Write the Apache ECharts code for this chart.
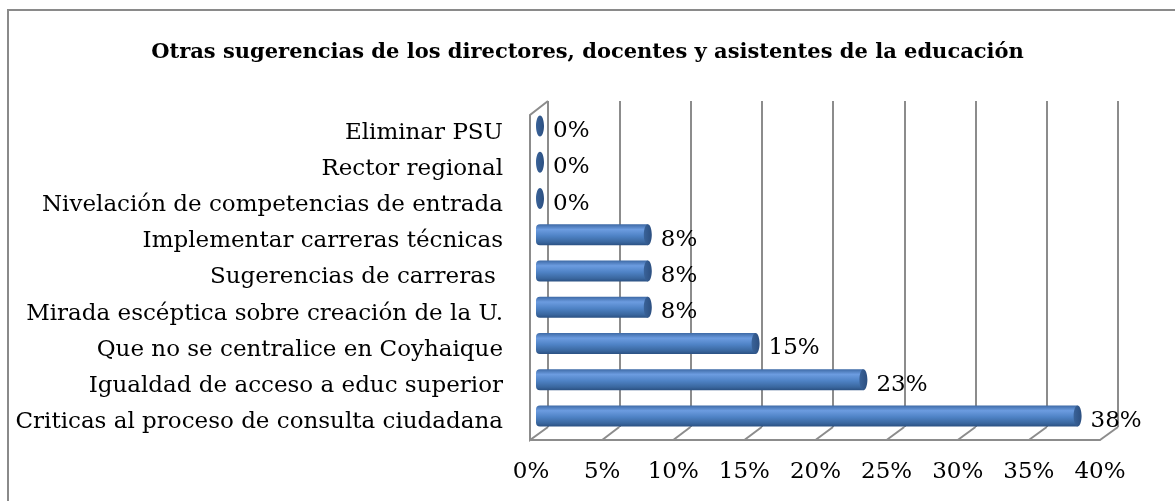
<!DOCTYPE html>
<html>
<head>
<meta charset="utf-8">
<script src="https://cdn.jsdelivr.net/npm/echarts@6/dist/echarts.min.js"></script>
<style>
  html, body { margin: 0; padding: 0; background: #fff; }
  #chart { width: 1175px; height: 501px; }
</style>
</head>
<body>
<div id="chart"></div>
<script>
// categories from top to bottom
const categories = [
  'Eliminar PSU',
  'Rector regional',
  'Nivelación de competencias de entrada',
  'Implementar carreras técnicas',
  'Sugerencias de carreras ',
  'Mirada escéptica sobre creación de la U.',
  'Que no se centralice en Coyhaique',
  'Igualdad de acceso a educ superior',
  'Criticas al proceso de consulta ciudadana'
];
const values = [0, 0, 0, 7.7, 7.7, 7.7, 15.4, 23.1, 38.4];
const axisMin = 0, axisMax = 40, axisStep = 5;

const FONT = 'DejaVu Serif';
const GRID_COLOR = '#8c8c8c';

// 3d box: back wall, mid (bars) and front plane
const back = { left: 548, right: 57, top: 101, bottom: 74 };
const mid = { left: 540, right: 75, top: 108, bottom: 67 };
const front = { left: 531, right: 75, top: 115, bottom: 61 };

const chart = echarts.init(document.getElementById('chart'));

function valueAxis(idx, extra) {
  return Object.assign({
    type: 'value', gridIndex: idx, min: axisMin, max: axisMax, interval: axisStep,
    axisLabel: { show: false }, axisTick: { show: false },
    axisLine: { show: false }, splitLine: { show: false }
  }, extra);
}
function catAxis(idx, extra) {
  return Object.assign({
    type: 'category', gridIndex: idx, data: categories, inverse: true,
    axisLabel: { show: false }, axisTick: { show: false },
    axisLine: { show: false }, splitLine: { show: false }
  }, extra);
}

chart.setOption({
  animation: false,
  title: {
    text: 'Otras sugerencias de los directores, docentes y asistentes de la educación',
    left: 'center', top: 37,
    textStyle: { fontFamily: FONT, fontWeight: 'bold', fontSize: 21, color: '#000' }
  },
  grid: [
    Object.assign({}, back),
    Object.assign({}, mid),
    Object.assign({}, front)
  ],
  xAxis: [
    valueAxis(0, { splitLine: { show: true, lineStyle: { color: GRID_COLOR, width: 2 } } }),
    valueAxis(1),
    valueAxis(2, {
      axisLine: { show: true, lineStyle: { color: GRID_COLOR, width: 2 } },
      axisLabel: {
        show: true, formatter: '{value}%', margin: 21,
        fontFamily: FONT, fontSize: 23, color: '#000'
      }
    })
  ],
  yAxis: [
    catAxis(0),
    catAxis(1),
    catAxis(2, {
      axisLabel: { show: true, margin: 28, fontFamily: FONT, fontSize: 23, color: '#000' }
    })
  ],
  series: [{
    type: 'custom',
    xAxisIndex: 1, yAxisIndex: 1,
    data: values.map((v, i) => [v, i]),
    renderItem: function (params, api) {
      const v = api.value(0);
      const c = api.value(1);
      const p0 = api.coord([0, c]);
      const p1 = api.coord([v, c]);
      const h = api.size([0, 1])[1] * 0.58;
      const rx = 4;
      const children = [];
      if (p1[0] - p0[0] > 1) {
        children.push({
          type: 'rect',
          shape: { x: p0[0] - 4, y: p1[1] - h / 2, width: p1[0] - p0[0] + 4, height: h, r: [rx, 0, 0, rx] },
          style: {
            fill: new echarts.graphic.LinearGradient(0, 0, 0, 1, [
              { offset: 0, color: '#3d69a5' },
              { offset: 0.25, color: '#6c9ce0' },
              { offset: 0.55, color: '#4f83c6' },
              { offset: 0.85, color: '#3a679f' },
              { offset: 1, color: '#2b5183' }
            ])
          }
        });
      }
      children.push({
        type: 'ellipse',
        shape: { cx: p1[0], cy: p1[1], rx: rx, ry: h / 2 },
        style: {
          fill: new echarts.graphic.LinearGradient(0, 0, 1, 0, [
            { offset: 0, color: '#3a6399' },
            { offset: 1, color: '#2c4f80' }
          ])
        }
      });
      children.push({
        type: 'text',
        style: {
          x: p1[0] + 13, y: p1[1] + 5,
          text: Math.round(v) + '%',
          fontFamily: FONT, fontSize: 23, fill: '#000',
          verticalAlign: 'middle', align: 'left'
        }
      });
      return { type: 'group', children: children };
    }
  }]
});

// frame of the 3d box, placed from the back and front axes
const W = 1175, H = 501;
const lineStyle = { stroke: GRID_COLOR, lineWidth: 2 };
const backBottom = H - back.bottom, frontBottom = H - front.bottom;
const graphics = [{
  type: 'rect', shape: { x: 8, y: 10, width: W + 20, height: H + 20 },
  style: { fill: 'none', stroke: '#8a8a8a', lineWidth: 2 }, z: -1
}];
const fx0 = chart.convertToPixel({ xAxisIndex: 2 }, axisMin);
const bx0 = chart.convertToPixel({ xAxisIndex: 0 }, axisMin);
// left side wall
graphics.push({ type: 'polyline', shape: { points: [[bx0, back.top], [fx0 - 1, front.top], [fx0 - 1, frontBottom], [bx0, backBottom]] }, style: Object.assign({ fill: 'none' }, lineStyle) });
// floor diagonals at every tick
for (let v = axisMin + axisStep; v <= axisMax; v += axisStep) {
  const fx = chart.convertToPixel({ xAxisIndex: 2 }, v);
  const bx = chart.convertToPixel({ xAxisIndex: 0 }, v);
  graphics.push({ type: 'line', shape: { x1: fx, y1: frontBottom, x2: bx, y2: backBottom }, style: lineStyle });
}
chart.setOption({ graphic: graphics });
</script>
</body>
</html>
